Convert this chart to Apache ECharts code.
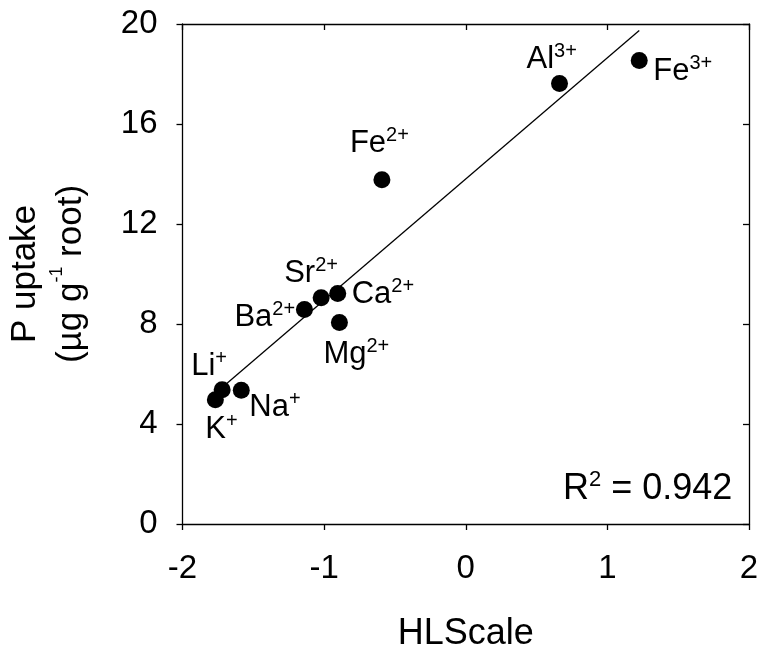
<!DOCTYPE html>
<html>
<head>
<meta charset="utf-8">
<script src="https://cdn.jsdelivr.net/npm/echarts@6/dist/echarts.min.js"></script>
<style>
  html, body { margin: 0; padding: 0; background: #fff; }
  #chart { width: 762px; height: 657px; }
</style>
</head>
<body>
<div id="chart"></div>
<script>
// Cation species, their charge (drawn as superscript) and measured values
const ions    = ['K', 'Li', 'Na', 'Ba', 'Sr', 'Ca', 'Mg', 'Fe', 'Al', 'Fe'];
const charges = ['+', '+', '+', '2+', '2+', '2+', '2+', '2+', '3+', '3+'];
const hlScale = [-1.768, -1.720, -1.585, -1.139, -1.021, -0.904, -0.892, -0.592, 0.662, 1.225];
const pUptake = [4.97, 5.37, 5.35, 8.58, 9.05, 9.22, 8.06, 13.77, 17.62, 18.54];

// Axis ranges and tick spacing
const xRange = { min: -2, max: 2, interval: 1 };
const yRange = { min: 0, max: 20, interval: 4 };
const r2Text = '0.942';

// Label placement (pixel offset of each label's top-left from its dot)
const labelOffsets = [
  [-10, 12], [-31, -41], [8, -1], [-70, -10], [-37, -42],
  [14, -17], [-16, 14], [-32, -54], [-33, -42], [14, -7]
];

// Least-squares fit drawn across the range of the data
function linearFit(xs, ys) {
  const n = xs.length;
  const mx = xs.reduce((a, b) => a + b, 0) / n;
  const my = ys.reduce((a, b) => a + b, 0) / n;
  let sxy = 0, sxx = 0;
  for (let i = 0; i < n; i++) {
    sxy += (xs[i] - mx) * (ys[i] - my);
    sxx += (xs[i] - mx) * (xs[i] - mx);
  }
  const slope = sxy / sxx;
  return { slope, intercept: my - slope * mx };
}
const fit = linearFit(hlScale, pUptake);
const xLo = Math.min(...hlScale), xHi = Math.max(...hlScale);
const fitLine = [
  [xLo, fit.intercept + fit.slope * xLo],
  [xHi, fit.intercept + fit.slope * xHi]
];

const FONT = "'Liberation Sans', Arial, sans-serif";
const black = '#000';

const labelRich = {
  m: { fontSize: 31, lineHeight: 36, color: black, fontFamily: FONT },
  s: { fontSize: 20, lineHeight: 15, color: black, fontFamily: FONT, verticalAlign: 'top' }
};

const points = hlScale.map((x, i) => ({
  value: [x, pUptake[i]],
  label: { offset: labelOffsets[i] }
}));

const lineStyle = { color: black, width: 1.3 };
const frameAxis = (extra) => Object.assign({
  type: 'value',
  axisLine: { show: true, onZero: false, lineStyle },
  axisTick: { show: true, inside: true, length: 6, lineStyle },
  axisLabel: { show: false },
  splitLine: { show: false }
}, extra);

const chart = echarts.init(document.getElementById('chart'), null, { renderer: 'canvas' });
chart.setOption({
  animation: false,
  backgroundColor: '#fff',
  grid: { left: 180, right: 13, top: 24, bottom: 129, containLabel: false },
  xAxis: [
    frameAxis({
      position: 'bottom', ...xRange,
      axisTick: { show: true, inside: false, length: 6, lineStyle },
      axisLabel: { show: true, color: black, fontSize: 33, fontFamily: FONT, margin: 28 },
      name: 'HLScale', nameLocation: 'middle', nameGap: 92,
      nameTextStyle: { color: black, fontSize: 36, fontFamily: FONT }
    }),
    frameAxis({ position: 'top', ...xRange })
  ],
  yAxis: [
    frameAxis({
      position: 'left', ...yRange,
      axisTick: { show: true, inside: false, length: 6, lineStyle },
      axisLabel: { show: true, color: black, fontSize: 33, fontFamily: FONT, margin: 25 },
      name: '{m|P uptake}\n{m|(µg g}{s|-1}{m| root)}',
      nameLocation: 'middle', nameRotate: 90, nameGap: 88,
      nameTextStyle: {
        color: black, fontFamily: FONT,
        rich: {
          m: { fontSize: 35, lineHeight: 46, color: black, fontFamily: FONT },
          s: { fontSize: 18, lineHeight: 12, color: black, fontFamily: FONT, verticalAlign: 'top' }
        }
      }
    }),
    frameAxis({ position: 'right', ...yRange })
  ],
  series: [
    {
      name: 'fit', type: 'line', xAxisIndex: 0, yAxisIndex: 0,
      data: fitLine, symbol: 'none', silent: true,
      lineStyle: { color: black, width: 1.3 }
    },
    {
      name: 'cations', type: 'scatter', xAxisIndex: 0, yAxisIndex: 0,
      data: points, symbol: 'circle', symbolSize: 17,
      itemStyle: { color: black, opacity: 1 },
      label: {
        show: true, position: 'inside', align: 'left', verticalAlign: 'top',
        color: black, textBorderWidth: 0,
        formatter: p => '{m|' + ions[p.dataIndex] + '}{s|' + charges[p.dataIndex] + '}',
        rich: labelRich
      }
    }
  ],
  graphic: [
    {
      type: 'text', left: 563, top: 469,
      style: {
        text: '{m|R}{s|2}{m| = ' + r2Text + '}',
        rich: {
          m: { fontSize: 36, lineHeight: 40, fill: black, fontFamily: FONT },
          s: { fontSize: 22, lineHeight: 18, fill: black, fontFamily: FONT, verticalAlign: 'top' }
        }
      }
    }
  ]
});
</script>
</body>
</html>
